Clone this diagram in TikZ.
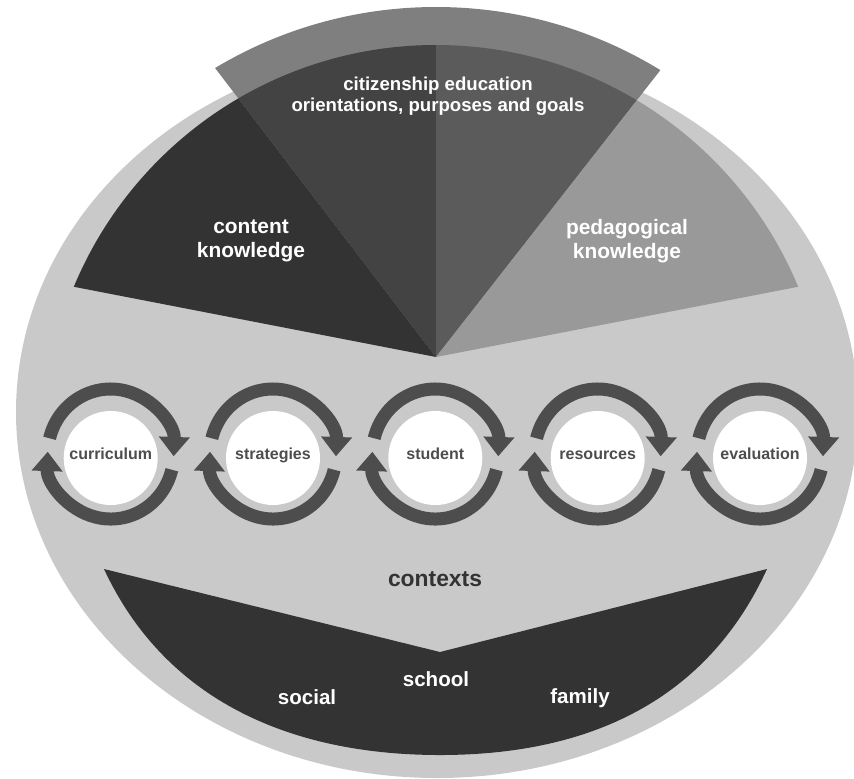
\documentclass[tikz,border=0pt]{standalone}
\usepackage{fontspec}
\setmainfont{Liberation Sans}
\usetikzlibrary{arrows.meta}
\definecolor{disc}{HTML}{C9C9C9}
\definecolor{dark}{HTML}{333333}
\definecolor{midleft}{HTML}{434343}
\definecolor{midright}{HTML}{5B5B5B}
\definecolor{band}{HTML}{7F7F7F}
\definecolor{pedag}{HTML}{999999}
\definecolor{ring}{HTML}{4D4D4D}
\begin{document}
\begin{tikzpicture}[x=0.02cm, y=-0.02cm, line join=round,
	wlabel/.style={text=white, align=center, font=\bfseries\fontsize{11.9}{13.6}\selectfont},
	clabel/.style={text=ring, text height=1.5ex, text depth=.25ex, font=\bfseries\fontsize{9.1}{10}\selectfont},
	cyc/.style={draw=ring, line width=7.4pt, -{Triangle[length=11pt,width=17pt]}}]
	\useasboundingbox (0,0) rectangle (854,778);
	\path
	(436,357) coordinate (A)
	(436,437) coordinate (C)
	(-286,217) coordinate (L)
	(40,-161) coordinate (ML)
	(436,-200) coordinate (M)
	(838,-157) coordinate (MR)
	(1158,217) coordinate (R)
	;
	\fill[disc] (437,412) ellipse [x radius=421, y radius=366];
	\begin{scope}
		\clip (C) circle [radius=430];
		\fill[band] (A)--(ML)--(MR)--cycle;
	\end{scope}
	\begin{scope}
		\clip (C) circle [radius=392];
		\fill[dark] (A)--(L)--(ML)--cycle;
		\fill[midleft] (A)--(ML)--(M)--cycle;
		\fill[midright] (A)--(M)--(MR)--cycle;
		\fill[pedag] (A)--(MR)--(R)--cycle;
	\end{scope}
	\node[wlabel, font=\bfseries\fontsize{10.6}{11.9}\selectfont] (goals) at (438,96) {citizenship education\\orientations, purposes and goals};
	\node[wlabel] (content) at (251,241) {content\\knowledge};
	\node[wlabel] (pedagogy) at (627,241) {pedagogical\\knowledge};
	% the five cycles
	\foreach \x/\t in {110.7/curriculum, 273/strategies, 435.3/student, 597.7/resources, 760/evaluation}{
		\fill[white] (\x,458) circle [radius=47];
		\draw[cyc] (\x,454) ++(194:63 and 65) arc [start angle=194, end angle=362, x radius=63, y radius=65];
		\draw[cyc] (\x,454) ++(14:63 and 65) arc [start angle=14, end angle=182, x radius=63, y radius=65];
		\node[clabel] (\t) at (\x,454) {\t};
	}
	\fill[dark] (104,569)--(440,652)--(767,569) .. controls (707,700) and (590,755) .. (440,755)
		.. controls (290,755) and (165,700) .. (104,569)--cycle;
	\node[text=dark, text height=1.5ex, text depth=.25ex, font=\bfseries\fontsize{13}{15}\selectfont] (contexts) at (435,581) {contexts};
	\foreach \x/\y/\t in {307/699/social, 436/681/school, 580/698/family}
	\node[wlabel, text height=1.5ex, text depth=.25ex, font=\bfseries\fontsize{11.7}{13}\selectfont] (\t) at (\x,\y) {\t};
\end{tikzpicture}
\end{document}
